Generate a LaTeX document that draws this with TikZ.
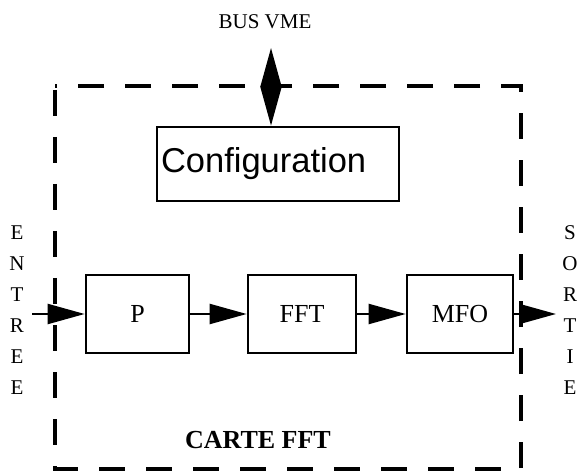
\documentclass[tikz,border=0pt]{standalone}
\usepackage{fontspec}
\setmainfont{Liberation Serif}
\newfontfamily\conffont{Liberation Sans}
\usetikzlibrary{arrows.meta}

\tikzset{
  bloc/.style={draw,line width=2.7pt,inner sep=0pt,font=\fontsize{26}{26}\selectfont},
  fleche/.style={line width=2.2pt,-{Triangle[length=37pt,width=20pt]}},
  cadre/.style={line width=3.2pt,dash pattern=on 26pt off 21pt,dash phase=43pt},
  lettre/.style={inner sep=0pt,font=\fontsize{21}{21}\selectfont},
}

\begin{document}
\begin{tikzpicture}[x=1pt,y=-1pt]
\useasboundingbox (0,0) rectangle (584,473);

% carte
\draw[cadre] (55,86) rectangle (521,469);
\node[font=\bfseries\fontsize{26}{26}\selectfont] (carte) at (258,440) {CARTE FFT};

% blocs
\node[bloc,text width=234pt,align=left,inner xsep=4pt,minimum height=74pt,
      font=\conffont\fontsize{34.5}{34.5}\selectfont] (conf) at (278,164) {Configuration};
\node[bloc,minimum width=103pt,minimum height=78pt] (P) at (137.5,314) {P};
\node[bloc,minimum width=108pt,minimum height=78pt] (fft) at (302,314) {FFT};
\node[bloc,minimum width=106pt,minimum height=78pt] (mfo) at (460,314) {MFO};

% bus
\node[font=\fontsize{21}{21}\selectfont] (bus) at (265,22) {BUS VME};
\coordinate (bv) at (271,48);
\draw[line width=2pt,{Triangle[length=39pt,width=21pt]}-{Triangle[length=39pt,width=21pt]}] (bv) -- (bv |- conf.north);

% entree / sortie
\foreach \l [count=\i] in {E,N,T,R,E,E} \node[lettre] (e\i) at (17,{233+31*(\i-1)}) {\l};
\foreach \l [count=\i] in {S,O,R,T,I,E} \node[lettre] (s\i) at (570,{233+31*(\i-1)}) {\l};
\coordinate (entree) at (32,314);
\coordinate (sortie) at (556,314);

\draw[fleche] (entree) -- (P);
\draw[fleche] (P) -- (fft);
\draw[fleche] (fft) -- (mfo);
\draw[fleche] (mfo) -- (sortie);
\end{tikzpicture}
\end{document}
